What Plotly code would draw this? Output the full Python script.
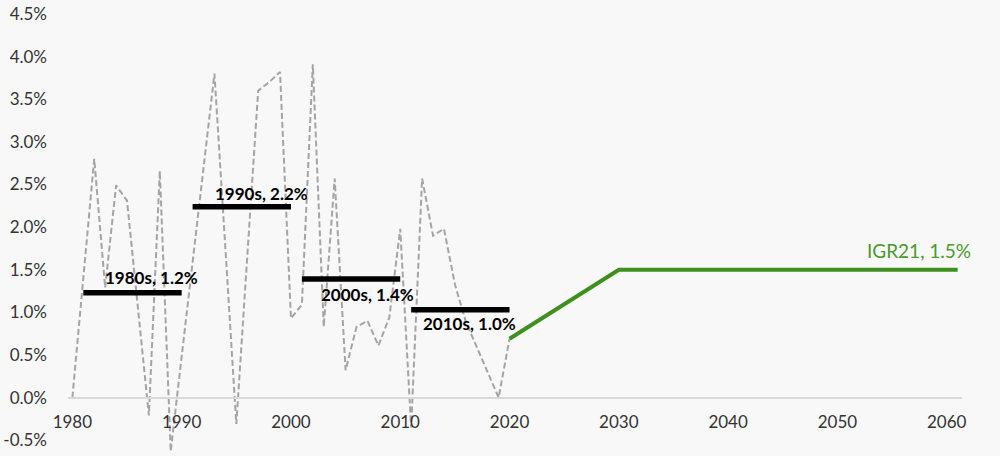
import plotly.graph_objects as go

# ---- data ----
years = list(range(1980, 2021))
growth = [0.0, 1.40, 2.80, 1.29, 2.49, 2.31, 1.05, -0.21, 2.66, -0.63,
          0.48, 1.59, 2.69, 3.80, 1.75, -0.31, 1.65, 3.60, 3.70, 3.82,
          0.93, 1.09, 3.91, 0.83, 2.57, 0.32, 0.83, 0.90, 0.61, 0.94,
          1.98, -0.35, 2.57, 1.90, 1.98, 1.33, 0.89, 0.60, 0.31, 0.0,
          0.69]

proj_years = [2020, 2030, 2061]
proj_values = [0.69, 1.5, 1.5]
proj_label = "IGR21, 1.5%"

decade_start = [1981, 1991, 2001, 2011]
decade_end = [1990, 2000, 2010, 2020]
decade_avg = [1.23, 2.24, 1.39, 1.03]
decade_labels = ["1980s, 1.2%", "1990s, 2.2%", "2000s, 1.4%", "2010s, 1.0%"]

x_ticks = [1980, 1990, 2000, 2010, 2020, 2030, 2040, 2050, 2060]
y_ticks = [-0.5, 0.0, 0.5, 1.0, 1.5, 2.0, 2.5, 3.0, 3.5, 4.0, 4.5]

# ---- figure ----
FONT = "Lato"
BG = "#f8f8f8"
Y_RANGE = [-0.65, 4.5]   # small headroom below -0.5% so dips are not clipped
fig = go.Figure()

fig.add_trace(go.Scatter(
    x=years, y=growth, mode="lines",
    line=dict(color="#a4a4a4", width=2, dash="6px,3px"),
    hoverinfo="skip", showlegend=False))

fig.add_trace(go.Scatter(
    x=proj_years, y=proj_values, mode="lines",
    line=dict(color="#3f8f1f", width=4),
    hoverinfo="skip", showlegend=False))

for s, e, v in zip(decade_start, decade_end, decade_avg):
    fig.add_trace(go.Scatter(
        x=[s, e], y=[v, v], mode="lines",
        line=dict(color="#000000", width=5.5),
        hoverinfo="skip", showlegend=False))

# label placement
label_pos = [(1987.2, 1.41), (1997.3, 2.40), (2007.0, 1.21), (2016.3, 0.87)]
for (lx, ly), txt in zip(label_pos, decade_labels):
    fig.add_annotation(x=lx, y=ly, text="<b>" + txt + "</b>", showarrow=False,
                       xanchor="center", yanchor="middle",
                       font=dict(family=FONT, size=17, color="#000000"))

fig.add_annotation(x=2057.5, y=1.72, text=proj_label, showarrow=False,
                   xanchor="center", yanchor="middle",
                   font=dict(family=FONT, size=19, color="#4a9a2a"))

fig.update_layout(
    width=1000, height=456,
    margin=dict(l=68, r=38, t=14, b=3),
    paper_bgcolor=BG, plot_bgcolor=BG,
    font=dict(family=FONT, size=17, color="#333333"),
    showlegend=False,
)

fig.update_xaxes(
    range=[1979.6, 2061.4], tickvals=x_ticks,
    ticktext=[str(t) for t in x_ticks],
    showgrid=False, zeroline=False, automargin=False,
    showline=True, linecolor="#d9d9d9", linewidth=2,
    anchor="free", position=(0 - Y_RANGE[0]) / (Y_RANGE[1] - Y_RANGE[0]),
    ticks="", ticklabelstandoff=9,
    tickfont=dict(family=FONT, size=17, color="#333333"),
)

fig.update_yaxes(
    range=Y_RANGE, tickvals=y_ticks,
    ticktext=[f"{v:.1f}%" for v in y_ticks],
    showgrid=False, zeroline=False, showline=False, ticks="",
    automargin=False, ticklabelstandoff=20,
    tickfont=dict(family=FONT, size=17, color="#333333"),
)

fig.write_html(
    "out.html",
    config={"displayModeBar": False},
    post_script="document.body.style.margin='0';"
                "document.body.style.background='" + BG + "';",
)
